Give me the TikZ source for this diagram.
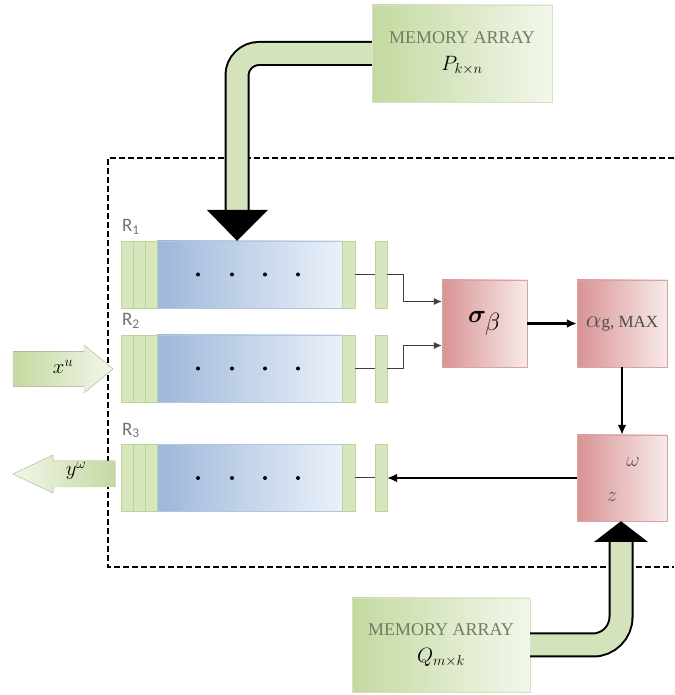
\documentclass[tikz,border=0pt]{standalone}
\usepackage{fontspec}
\usepackage{bm}
\setmainfont{Liberation Serif}
\newfontfamily\regfont{Carlito}
\usetikzlibrary{arrows.meta,positioning,calc}
\definecolor{memdark}{HTML}{C4D9A0}
\definecolor{mempale}{HTML}{F2F7EB}
\definecolor{memedge}{HTML}{D3E2BF}
\definecolor{pipegreen}{HTML}{D4E3BC}
\definecolor{stripgreen}{HTML}{D7E6BC}
\definecolor{stripedge}{HTML}{BCD39A}
\definecolor{regblue}{HTML}{9DB7DA}
\definecolor{regpale}{HTML}{EBF1F9}
\definecolor{pinkdark}{HTML}{D99393}
\definecolor{pinkpale}{HTML}{F8EAEA}
\definecolor{pinkedge}{HTML}{D8A3A3}
\definecolor{labelgray}{HTML}{6F7D66}
\tikzset{memory/.style={draw=memedge, left color=memdark, right color=mempale,
    minimum width=180pt, minimum height=97pt, align=center, text=labelgray,
    font=\fontsize{18}{26}\selectfont}}
\tikzset{strip/.style={draw=stripedge, fill=stripgreen, minimum width=12pt,
    minimum height=67pt, inner sep=0pt}}
\tikzset{regbody/.style={draw=regblue!80, left color=regblue, right color=regpale,
    minimum width=185pt, minimum height=67pt, inner sep=0pt}}
\tikzset{unit/.style={draw=pinkedge, left color=pinkdark, right color=pinkpale,
    minimum width=85pt, minimum height=87pt, inner sep=0pt}}
\tikzset{pipeout/.style={line width=25pt, black}}
\tikzset{pipein/.style={line width=21pt, pipegreen}}
\tikzset{port/.style={draw=stripedge, line join=round}}
\tikzset{wire/.style={line width=1pt, black!75}}
\tikzset{flow/.style={line width=2.2pt, -{Latex[length=10pt,width=9pt]}}}
\tikzset{rlab/.style={inner sep=0pt, text=black!55, font=\regfont\fontsize{19}{19}\selectfont}}
\tikzset{frame/.style={dashed, dash pattern=on 6pt off 3pt, line width=1.6pt}}

\begin{document}
\begin{tikzpicture}[x=1pt, y=1pt]
    \useasboundingbox (0,0) rectangle (674,695);

    % dashed frame, open on the right
    \draw[frame] (674,537) -- (108,537) -- (108,128) -- (674,128);

    % memory arrays
    \node(memP)[memory] at (462,641.5) {MEMORY ARRAY\\[1pt]\textcolor{black}{\fontsize{22}{22}\selectfont$P_{k\times n}$}};
    \node(memQ)[memory, minimum width=178pt, minimum height=94pt] at (441,50) {MEMORY ARRAY\\[1pt]\textcolor{black}{\fontsize{22}{22}\selectfont$Q_{m\times k}$}};

    % registers
    \foreach \reg/\y in {1/420.5, 2/326.5, 3/217} {
        \node(r\reg)[regbody] at (249.5,\y) {};
        \node(r\reg a)[strip] at (127,\y) {};
        \node(r\reg b)[strip] at (139,\y) {};
        \node(r\reg c)[strip] at (151,\y) {};
        \node(r\reg e)[strip, minimum width=13pt] at (348.5,\y) {};
        \node(r\reg s)[strip] at (381,\y) {};
        \foreach \x in {198,232,265,298}
            \fill (\x,\y) circle (2pt);
        \node(r\reg lab)[rlab, anchor=base west] at ($(r\reg a.north west)+(1,9)$) {R\textsubscript{\reg}};
        \draw[wire] (r\reg e) -- (r\reg s);
    }

    % processing units
    \node(sigma)[unit] at (484.5,371.5) {\fontsize{34}{34}\selectfont$\bm{\sigma}_{\beta}$};
    \node(alpha)[unit, minimum width=90pt, text=black!70] at (622,371.5)
        {\fontsize{26}{26}\selectfont$\alpha$\fontsize{17}{17}\selectfont g, MAX};
    \node(z)[unit, minimum width=90pt, minimum height=86pt] at (622,217) {};
    \node(zlab)[text=black!65] at (612,198) {\fontsize{22}{22}\selectfont$z$};
    \node(wlab)[text=black!65] at (633,233) {\fontsize{20}{20}\selectfont$\omega$};

    % input / output
    \fill[port, left color=memdark, right color=mempale] (13,343.5) -- (84,343.5) -- (84,350) -- (113,326) -- (84,302) -- (84,308.5) -- (13,308.5) -- cycle;
    \node(xin) at (63,328) {\fontsize{20}{20}\selectfont$x^{u}$};
    \fill[port, left color=mempale, right color=memdark] (115,234) -- (53,234) -- (53,240) -- (13,221) -- (53,202) -- (53,208) -- (115,208) -- cycle;
    \node(yout) at (76,224) {\fontsize{20}{20}\selectfont$y^{\omega}$};

    % pipes from the memory arrays
    \coordinate (pP) at (237,485);
    \draw[pipeout, rounded corners=22pt] (memP.west) -| (pP);
    \draw[pipein, rounded corners=22pt] (memP.west) -| (pP);
    \fill (pP) ++(-30,0) -- ++(61,0) -- (pP |- r1.north) -- cycle;

    \coordinate (pQ) at (621,153);
    \draw[pipeout, rounded corners=28pt] (memQ.east) -| (pQ);
    \draw[pipein, rounded corners=28pt] (memQ.east) -| (pQ);
    \fill (pQ) ++(-27,0) -- ++(54,0) -- (pQ |- z.south) -- cycle;

    % links
    \draw[wire, -{Latex[length=8pt,width=7pt]}] (r1s.east) -- ++(16,0) |- ($(sigma.west)+(0,22)$);
    \draw[wire, -{Latex[length=8pt,width=7pt]}] (r2s.east) -- ++(16,0) |- ($(sigma.west)+(0,-22)$);
    \draw[flow] (sigma) -- (alpha);
    \draw[flow] (alpha) -- (z);
    \draw[flow] (z.west) -- (r3s.east |- z.west);

\end{tikzpicture}
\end{document}
